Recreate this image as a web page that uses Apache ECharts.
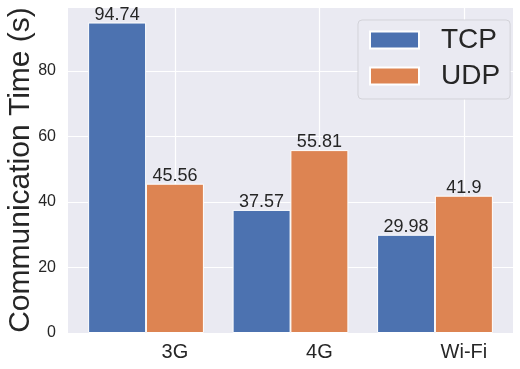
<!DOCTYPE html>
<html>
<head>
<meta charset="utf-8">
<script src="https://cdn.jsdelivr.net/npm/echarts@6/dist/echarts.min.js"></script>
<style>
  html, body { margin: 0; padding: 0; background: #fff; }
  #main { width: 520px; height: 369px; }
</style>
</head>
<body>
<div id="main"></div>
<script>
var categories = ['3G', '4G', 'Wi-Fi'];
var tcpValues = [94.74, 37.57, 29.98];
var udpValues = [45.56, 55.81, 41.9];
var yTicks = [0, 20, 40, 60, 80];

// bars sit at i -/+ 0.2, tick labels under the UDP bar
var tcpData = tcpValues.map(function (v, i) { return [i - 0.2, v]; });
var udpData = udpValues.map(function (v, i) { return [i + 0.2, v]; });
var labelPos = categories.map(function (c, i) { return i + 0.2; });

var textColor = '#262626';
var font = 'Liberation Sans';

var myChart = echarts.init(document.getElementById('main'));
var barLabel = {
    show: true,
    position: 'top',
    distance: -1,
    fontSize: 18,
    fontFamily: font,
    color: textColor
};
var option = {
    backgroundColor: '#ffffff',
    animation: false,
    textStyle: { fontFamily: font },
    grid: {
        left: 68, right: 7, top: 7, bottom: 36,
        outerBoundsMode: 'none',
        containLabel: false,
        show: true,
        backgroundColor: '#EAEAF2',
        borderWidth: 0
    },
    legend: {
        orient: 'vertical',
        left: 358,
        top: 20,
        padding: [6, 10, 9, 11],
        itemGap: 8,
        itemWidth: 49,
        itemHeight: 17,
        icon: 'rect',
        backgroundColor: '#EAEAF2',
        borderColor: '#d3d3d9',
        borderWidth: 1,
        borderRadius: 4,
        textStyle: {
            fontSize: 28,
            lineHeight: 28,
            fontFamily: font,
            color: textColor,
            padding: [0, 0, 0, 17]
        },
        data: ['TCP', 'UDP']
    },
    xAxis: {
        type: 'value',
        min: -0.54,
        max: 2.54,
        axisLine: { show: false },
        axisTick: { show: false, customValues: labelPos },
        axisLabel: {
            customValues: labelPos,
            fontSize: 20,
            margin: 9,
            color: textColor,
            fontFamily: font,
            formatter: function (v) {
                return categories[Math.round(v - 0.2)];
            }
        },
        splitLine: { show: false }
    },
    yAxis: {
        type: 'value',
        min: 0,
        max: 99.48,
        interval: 20,
        name: 'Communication Time (s)',
        nameLocation: 'middle',
        nameGap: 32,
        nameMoveOverlap: false,
        nameTextStyle: { fontSize: 30, color: textColor, fontFamily: font },
        axisLine: { show: false },
        axisTick: { show: false },
        axisLabel: {
            fontSize: 16,
            margin: 12,
            color: textColor,
            fontFamily: font,
            showMaxLabel: false,
            formatter: function (v) {
                return yTicks.indexOf(v) >= 0 ? String(v) : '';
            }
        },
        splitLine: { show: true, lineStyle: { color: '#ffffff', width: 1.2 } }
    },
    series: [
        {
            // vertical grid lines at the tick labels, behind the bars
            type: 'line',
            data: [],
            z: 1,
            silent: true,
            markLine: {
                z: 1,
                silent: true,
                symbol: 'none',
                label: { show: false },
                lineStyle: { color: '#ffffff', width: 1.2, type: 'solid' },
                data: labelPos.map(function (p) { return { xAxis: p }; })
            }
        },
        {
            name: 'TCP',
            type: 'bar',
            z: 2,
            data: tcpData,
            barWidth: 58,
            barGap: '-100%',
            itemStyle: { color: '#4C72B0', borderColor: '#ffffff', borderWidth: 1 },
            label: barLabel
        },
        {
            name: 'UDP',
            type: 'bar',
            z: 2,
            data: udpData,
            barWidth: 58,
            barGap: '-100%',
            itemStyle: { color: '#DD8452', borderColor: '#ffffff', borderWidth: 1 },
            label: barLabel
        }
    ]
};
myChart.setOption(option);
</script>
</body>
</html>
